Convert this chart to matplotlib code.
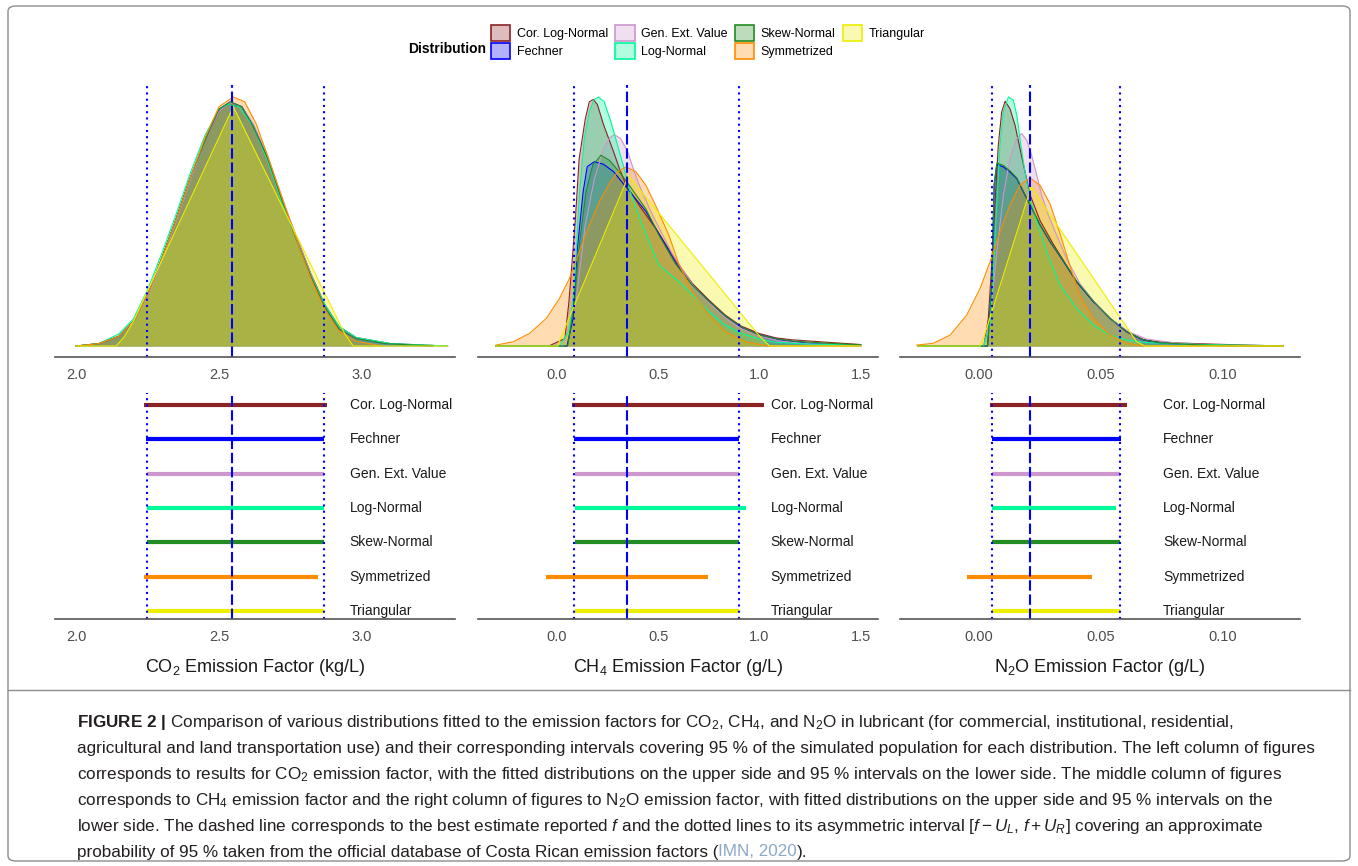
import matplotlib
matplotlib.use("Agg")
import matplotlib.pyplot as plt
from matplotlib.patches import Patch, FancyBboxPatch
from matplotlib.lines import Line2D
from matplotlib.colors import to_rgba

plt.rcParams['font.family'] = ['Liberation Sans', 'DejaVu Sans']
plt.rcParams['mathtext.fontset'] = 'custom'
plt.rcParams['mathtext.rm'] = 'Liberation Sans'
plt.rcParams['mathtext.it'] = 'Liberation Sans:italic'
plt.rcParams['mathtext.bf'] = 'Liberation Sans:bold'

dist_names = ["Cor. Log-Normal", "Fechner", "Gen. Ext. Value", "Log-Normal",
              "Skew-Normal", "Symmetrized", "Triangular"]
dist_colors = ["#8B2323", "#0000FF", "#CD96CD", "#00FA9A", "#228B22", "#FF8C00", "#EEEE00"]

# ---- CO2: fitted densities (x, relative density) ----
co2_corln = [(2.00, 0.00), (2.08, 0.01), (2.15, 0.04), (2.20, 0.10), (2.25, 0.21), (2.30, 0.36),
             (2.35, 0.52), (2.40, 0.69), (2.45, 0.84), (2.50, 0.96), (2.53, 0.99), (2.58, 0.98),
             (2.62, 0.90), (2.67, 0.77), (2.72, 0.60), (2.77, 0.45), (2.82, 0.30), (2.87, 0.17),
             (2.92, 0.08), (2.98, 0.035), (3.10, 0.01), (3.30, 0.00)]
co2_fechner = [(2.00, 0.00), (2.08, 0.01), (2.15, 0.04), (2.20, 0.10), (2.25, 0.21), (2.30, 0.36),
               (2.35, 0.52), (2.40, 0.69), (2.45, 0.84), (2.50, 0.97), (2.54, 1.00), (2.58, 0.98),
               (2.62, 0.90), (2.67, 0.77), (2.72, 0.60), (2.77, 0.44), (2.82, 0.29), (2.87, 0.16),
               (2.92, 0.07), (2.98, 0.03), (3.08, 0.01), (3.25, 0.00)]
co2_gev = [(2.00, 0.00), (2.08, 0.01), (2.15, 0.04), (2.20, 0.10), (2.25, 0.20), (2.30, 0.35),
           (2.35, 0.51), (2.40, 0.68), (2.45, 0.84), (2.50, 0.96), (2.54, 1.00), (2.58, 0.98),
           (2.62, 0.91), (2.67, 0.78), (2.72, 0.61), (2.77, 0.45), (2.82, 0.30), (2.87, 0.16),
           (2.92, 0.07), (2.98, 0.03), (3.08, 0.01), (3.25, 0.00)]
co2_ln = [(2.00, 0.00), (2.08, 0.01), (2.15, 0.05), (2.20, 0.11), (2.25, 0.23), (2.30, 0.38),
          (2.35, 0.54), (2.40, 0.71), (2.45, 0.86), (2.50, 0.97), (2.53, 0.99), (2.57, 0.98),
          (2.62, 0.90), (2.67, 0.76), (2.72, 0.59), (2.77, 0.44), (2.82, 0.29), (2.87, 0.17),
          (2.92, 0.08), (2.98, 0.035), (3.10, 0.01), (3.30, 0.00)]
co2_skew = [(2.00, 0.00), (2.08, 0.01), (2.15, 0.04), (2.20, 0.10), (2.25, 0.21), (2.30, 0.36),
            (2.35, 0.52), (2.40, 0.69), (2.45, 0.84), (2.50, 0.97), (2.54, 1.00), (2.58, 0.98),
            (2.62, 0.90), (2.67, 0.77), (2.72, 0.60), (2.77, 0.44), (2.82, 0.29), (2.87, 0.16),
            (2.92, 0.07), (2.98, 0.03), (3.08, 0.01), (3.25, 0.00)]
co2_sym = [(2.00, 0.00), (2.08, 0.01), (2.15, 0.04), (2.20, 0.10), (2.25, 0.21), (2.30, 0.36),
           (2.35, 0.52), (2.40, 0.69), (2.45, 0.85), (2.50, 0.98), (2.55, 1.02), (2.59, 1.00),
           (2.63, 0.91), (2.67, 0.78), (2.72, 0.61), (2.77, 0.44), (2.82, 0.28), (2.87, 0.15),
           (2.92, 0.06), (2.98, 0.02), (3.07, 0.00)]
co2_tri = [(2.00, 0.00), (2.14, 0.00), (2.17, 0.04), (2.20, 0.10), (2.55, 0.98), (2.94, 0.05),
           (2.97, 0.00), (3.30, 0.00)]

# ---- CH4 ----
ch4_corln = [(-0.30, 0.00), (-0.04, 0.00), (0.04, 0.03), (0.06, 0.18), (0.09, 0.49), (0.11, 0.75),
             (0.14, 0.91), (0.16, 0.98), (0.18, 0.99), (0.20, 0.97), (0.23, 0.89), (0.28, 0.78),
             (0.31, 0.71), (0.34, 0.65), (0.41, 0.56), (0.49, 0.47), (0.59, 0.34), (0.67, 0.25),
             (0.75, 0.185), (0.83, 0.125), (0.91, 0.08), (1.00, 0.05), (1.08, 0.033), (1.16, 0.025),
             (1.32, 0.016), (1.50, 0.006)]
ch4_fechner = [(-0.30, 0.00), (0.05, 0.00), (0.08, 0.11), (0.10, 0.38), (0.13, 0.62), (0.15, 0.72),
               (0.185, 0.74), (0.23, 0.73), (0.28, 0.70), (0.32, 0.66), (0.37, 0.61), (0.44, 0.54),
               (0.49, 0.47), (0.59, 0.33), (0.67, 0.245), (0.75, 0.18), (0.83, 0.12), (0.91, 0.075),
               (1.00, 0.045), (1.10, 0.025), (1.25, 0.01), (1.50, 0.00)]
ch4_gev = [(-0.30, 0.00), (0.03, 0.00), (0.095, 0.18), (0.14, 0.485), (0.185, 0.67), (0.23, 0.79),
           (0.26, 0.835), (0.283, 0.849), (0.315, 0.833), (0.35, 0.78), (0.38, 0.705), (0.41, 0.64),
           (0.47, 0.53), (0.57, 0.37), (0.67, 0.245), (0.75, 0.175), (0.83, 0.115), (0.91, 0.07),
           (1.00, 0.04), (1.10, 0.02), (1.25, 0.008), (1.50, 0.00)]
ch4_ln = [(-0.30, 0.00), (0.013, 0.00), (0.06, 0.06), (0.087, 0.245), (0.111, 0.606), (0.136, 0.833),
          (0.16, 0.94), (0.185, 0.99), (0.206, 1.00), (0.234, 0.98), (0.267, 0.90), (0.30, 0.806),
          (0.332, 0.713), (0.357, 0.632), (0.41, 0.51), (0.46, 0.41), (0.504, 0.325), (0.60, 0.26),
          (0.67, 0.205), (0.75, 0.138), (0.83, 0.084), (0.91, 0.051), (1.00, 0.028), (1.08, 0.015),
          (1.24, 0.008), (1.50, 0.004)]
ch4_skew = [(-0.30, 0.00), (0.054, 0.00), (0.087, 0.18), (0.111, 0.405), (0.144, 0.62), (0.177, 0.726),
            (0.218, 0.766), (0.259, 0.746), (0.308, 0.70), (0.357, 0.646), (0.44, 0.55), (0.504, 0.445),
            (0.586, 0.33), (0.668, 0.245), (0.75, 0.18), (0.832, 0.12), (0.914, 0.075), (0.995, 0.045),
            (1.08, 0.03), (1.16, 0.02), (1.32, 0.012), (1.50, 0.005)]
ch4_sym = [(-0.30, 0.004), (-0.216, 0.017), (-0.134, 0.051), (-0.052, 0.111), (0.013, 0.191),
           (0.062, 0.271), (0.111, 0.378), (0.16, 0.485), (0.21, 0.579), (0.259, 0.652), (0.30, 0.699),
           (0.341, 0.719), (0.39, 0.70), (0.44, 0.645), (0.49, 0.56), (0.553, 0.445), (0.602, 0.33),
           (0.668, 0.218), (0.75, 0.124), (0.832, 0.057), (0.93, 0.017), (1.045, 0.00), (1.50, 0.00)]
ch4_tri = [(-0.30, 0.00), (0.005, 0.00), (0.013, 0.02), (0.354, 0.683), (0.995, 0.045), (1.05, 0.00),
           (1.50, 0.00)]

# ---- N2O ----
n2o_corln = [(-0.025, 0.00), (0.002, 0.00), (0.0038, 0.111), (0.0052, 0.325), (0.0066, 0.579),
             (0.0079, 0.806), (0.0093, 0.94), (0.0107, 0.983), (0.0127, 0.953), (0.0148, 0.886),
             (0.0168, 0.793), (0.0189, 0.699), (0.021, 0.606), (0.0251, 0.503), (0.0305, 0.409),
             (0.0333, 0.365), (0.0401, 0.258), (0.047, 0.178), (0.0538, 0.111), (0.0607, 0.057),
             (0.0675, 0.026), (0.0744, 0.016), (0.0826, 0.012), (0.0949, 0.008), (0.11, 0.004),
             (0.125, 0.00)]
n2o_fechner = [(-0.025, 0.00), (0.0035, 0.00), (0.0052, 0.245), (0.0062, 0.646), (0.0073, 0.729),
               (0.010, 0.719), (0.0127, 0.699), (0.0155, 0.672), (0.0182, 0.619), (0.021, 0.566),
               (0.0251, 0.485), (0.0292, 0.418), (0.0333, 0.36), (0.0401, 0.258), (0.047, 0.178),
               (0.0538, 0.111), (0.0607, 0.057), (0.0675, 0.024), (0.0744, 0.012), (0.09, 0.004),
               (0.105, 0.00), (0.125, 0.00)]
n2o_gev = [(-0.025, 0.00), (0.002, 0.00), (0.0045, 0.111), (0.0073, 0.378), (0.010, 0.606),
           (0.0127, 0.753), (0.0155, 0.833), (0.0175, 0.853), (0.0196, 0.826), (0.0216, 0.766),
           (0.0237, 0.686), (0.0257, 0.606), (0.0285, 0.525), (0.0319, 0.445), (0.036, 0.35),
           (0.0415, 0.25), (0.0483, 0.165), (0.0552, 0.10), (0.062, 0.055), (0.0689, 0.028),
           (0.0826, 0.01), (0.10, 0.003), (0.125, 0.00)]
n2o_ln = [(-0.025, 0.00), (0.0018, 0.00), (0.0045, 0.084), (0.0059, 0.298), (0.0073, 0.579),
          (0.0086, 0.806), (0.010, 0.94), (0.0121, 1.00), (0.0141, 0.987), (0.0155, 0.926),
          (0.0168, 0.833), (0.0182, 0.739), (0.0196, 0.659), (0.021, 0.592), (0.0237, 0.50),
          (0.0285, 0.36), (0.0333, 0.245), (0.0401, 0.151), (0.047, 0.084), (0.0538, 0.044),
          (0.0607, 0.024), (0.0689, 0.014), (0.0826, 0.008), (0.1031, 0.004), (0.125, 0.001)]
n2o_skew = [(-0.025, 0.00), (0.0035, 0.00), (0.0052, 0.25), (0.0062, 0.65), (0.0073, 0.735),
            (0.010, 0.725), (0.0127, 0.703), (0.0155, 0.675), (0.0182, 0.622), (0.021, 0.568),
            (0.0251, 0.487), (0.0292, 0.42), (0.0333, 0.362), (0.0401, 0.26), (0.047, 0.18),
            (0.0538, 0.112), (0.0607, 0.058), (0.0675, 0.025), (0.0744, 0.013), (0.09, 0.005),
            (0.105, 0.00), (0.125, 0.00)]
n2o_sym = [(-0.0256, 0.004), (-0.0188, 0.011), (-0.0119, 0.044), (-0.0051, 0.124), (0.0004, 0.231),
           (0.0045, 0.338), (0.0086, 0.459), (0.0127, 0.566), (0.0168, 0.646), (0.021, 0.675),
           (0.0251, 0.645), (0.0292, 0.57), (0.0333, 0.45), (0.0374, 0.32), (0.0415, 0.20),
           (0.047, 0.11), (0.0538, 0.044), (0.0607, 0.011), (0.068, 0.00), (0.125, 0.00)]
n2o_tri = [(-0.025, 0.00), (0.0004, 0.00), (0.0018, 0.031), (0.0214, 0.639), (0.0648, 0.017),
           (0.0682, 0.00), (0.125, 0.00)]

# ---- 95 % intervals (lower, upper) per distribution ----
co2_intervals = [(2.238, 2.879), (2.245, 2.869), (2.247, 2.869), (2.247, 2.869),
                 (2.247, 2.869), (2.238, 2.848), (2.247, 2.869)]
ch4_intervals = [(0.076, 1.020), (0.084, 0.901), (0.089, 0.898), (0.089, 0.936),
                 (0.089, 0.898), (-0.052, 0.745), (0.089, 0.898)]
n2o_intervals = [(0.0045, 0.0607), (0.0052, 0.0582), (0.0054, 0.0580), (0.0054, 0.0563),
                 (0.0052, 0.0580), (-0.0051, 0.0464), (0.0054, 0.0580)]

# best estimate f and its reported interval [f - U_L, f + U_R]
co2_ref = (2.546, 2.247, 2.869)
ch4_ref = (0.344, 0.085, 0.897)
n2o_ref = (0.021, 0.0053, 0.058)

co2_ticks = [2.0, 2.5, 3.0]
ch4_ticks = [0.0, 0.5, 1.0, 1.5]
n2o_ticks = [0.00, 0.05, 0.10]
co2_ticklabels = ["2.0", "2.5", "3.0"]
ch4_ticklabels = ["0.0", "0.5", "1.0", "1.5"]
n2o_ticklabels = ["0.00", "0.05", "0.10"]

panels = [
    dict(curves=[co2_corln, co2_fechner, co2_gev, co2_ln, co2_skew, co2_sym, co2_tri],
         intervals=co2_intervals, ref=co2_ref, xlim=(1.926, 3.326), ticks=co2_ticks,
         ticklabels=co2_ticklabels, label_x=2.957, left=55,
         xlabel="CO$_2$ Emission Factor (kg/L)"),
    dict(curves=[ch4_corln, ch4_fechner, ch4_gev, ch4_ln, ch4_skew, ch4_sym, ch4_tri],
         intervals=ch4_intervals, ref=ch4_ref, xlim=(-0.389, 1.585), ticks=ch4_ticks,
         ticklabels=ch4_ticklabels, label_x=1.055, left=478,
         xlabel="CH$_4$ Emission Factor (g/L)"),
    dict(curves=[n2o_corln, n2o_fechner, n2o_gev, n2o_ln, n2o_skew, n2o_sym, n2o_tri],
         intervals=n2o_intervals, ref=n2o_ref, xlim=(-0.0325, 0.1319), ticks=n2o_ticks,
         ticklabels=n2o_ticklabels, label_x=0.0756, left=900,
         xlabel="N$_2$O Emission Factor (g/L)"),
]

W, H = 1358, 866
fig = plt.figure(figsize=(W / 100, H / 100), dpi=100)
fig.patch.set_facecolor("white")

axis_grey = "#555555"
tick_grey = "#4D4D4D"
ref_blue = "#0000FF"


def style_axis(ax, p):
    for s in ["top", "right", "left"]:
        ax.spines[s].set_visible(False)
    ax.spines["bottom"].set_color(axis_grey)
    ax.spines["bottom"].set_linewidth(1.2)
    ax.set_yticks([])
    ax.set_xlim(p["xlim"])
    ax.set_xticks(p["ticks"])
    ax.set_xticklabels(p["ticklabels"])
    ax.tick_params(axis="x", length=0, pad=8, labelsize=10.5, labelcolor=tick_grey)
    ax.patch.set_alpha(0)


def ref_lines(ax, ref):
    f, lo, hi = ref
    ax.axvline(f, color=ref_blue, lw=1.5, linestyle=(0, (5, 1.8)))
    ax.axvline(lo, color=ref_blue, lw=1.5, linestyle=(0, (1, 2.0)))
    ax.axvline(hi, color=ref_blue, lw=1.5, linestyle=(0, (1, 2.0)))


for p in panels:
    pw = 400 / W
    ax_top = fig.add_axes([p["left"] / W, 1 - 357 / H, pw, 272 / H])
    ax_bot = fig.add_axes([p["left"] / W, 1 - 619 / H, pw, 226 / H])

    peak = 0
    for curve, col in zip(p["curves"], dist_colors):
        xs = [c[0] for c in curve]
        hs = [c[1] for c in curve]
        peak = max(peak, max(hs))
        ax_top.fill_between(xs, hs, 0, color=col, alpha=0.3, lw=0)
        ax_top.plot(xs, hs, color=col, lw=0.8)
    ax_top.set_ylim(-0.044 * peak, 1.048 * peak)
    style_axis(ax_top, p)
    ref_lines(ax_top, p["ref"])

    rows = list(range(len(dist_names), 0, -1))
    for (lo, hi), col, row, name in zip(p["intervals"], dist_colors, rows, dist_names):
        ax_bot.hlines(row, lo, hi, color=col, lw=3, capstyle="butt")
        ax_bot.text(p["label_x"], row, name, ha="left", va="center", fontsize=10, color="#1A1A1A")
    ax_bot.set_ylim(0.767, 7.35)
    style_axis(ax_bot, p)
    ref_lines(ax_bot, p["ref"])
    ax_bot.set_xlabel(p["xlabel"], fontsize=13, color="#1A1A1A", labelpad=9)

# legend
handles = [Patch(facecolor=to_rgba(c, 0.3), edgecolor=c, lw=1.2) for c in dist_colors]
fig.legend(handles, dist_names, ncol=4, loc="upper left", bbox_to_anchor=(491 / W, 1 - 25 / H),
           frameon=False, fontsize=9, handlelength=1.55, handleheight=1.55, handletextpad=0.5,
           columnspacing=0.6, labelspacing=0.2, borderpad=0, borderaxespad=0)
fig.text(408 / W, 1 - 49 / H, "Distribution", fontsize=10, fontweight="bold", va="center", ha="left")

# frame around figure and caption
fig.patches.append(FancyBboxPatch((8 / W, 5 / H), 1342 / W, 855 / H,
                                  boxstyle="round,pad=0,rounding_size=0.006",
                                  transform=fig.transFigure, fill=False,
                                  edgecolor="#8C8C8C", lw=1.0))
fig.add_artist(Line2D([8 / W, 1350 / W], [1 - 690 / H, 1 - 690 / H], color="#8C8C8C", lw=1.0,
                      transform=fig.transFigure))

cap_color = "#231F20"
cap_size = 12.3
cap_lines = [
    r"$\mathbf{FIGURE\ 2\ |}$ Comparison of various distributions fitted to the emission factors for CO$_2$, "
    r"CH$_4$, and N$_2$O in lubricant (for commercial, institutional, residential,",
    "agricultural and land transportation use) and their corresponding intervals covering 95 % of the "
    "simulated population for each distribution. The left column of figures",
    "corresponds to results for CO$_2$ emission factor, with the fitted distributions on the upper side "
    "and 95 % intervals on the lower side. The middle column of figures",
    "corresponds to CH$_4$ emission factor and the right column of figures to N$_2$O emission factor, "
    "with fitted distributions on the upper side and 95 % intervals on the",
    "lower side. The dashed line corresponds to the best estimate reported $f$ and the dotted lines to "
    "its asymmetric interval [$f - U_L$, $f + U_R$] covering an approximate",
]
cap_y = [723, 749, 775, 800, 826]
for line, y in zip(cap_lines, cap_y):
    fig.text(77 / W, 1 - y / H, line, fontsize=cap_size, color=cap_color, va="center", ha="left")

t1 = fig.text(77 / W, 1 - 852 / H,
              "probability of 95 % taken from the official database of Costa Rican emission factors (",
              fontsize=cap_size, color=cap_color, va="center", ha="left")
fig.canvas.draw()
bb = t1.get_window_extent()
t2 = fig.text(bb.x1 / W, 1 - 852 / H, "IMN, 2020", fontsize=cap_size, color="#8AA8C8",
              va="center", ha="left")
fig.canvas.draw()
bb2 = t2.get_window_extent()
fig.text(bb2.x1 / W, 1 - 852 / H, ").", fontsize=cap_size, color=cap_color, va="center", ha="left")

fig.savefig("out.png", dpi=100, facecolor="white")
